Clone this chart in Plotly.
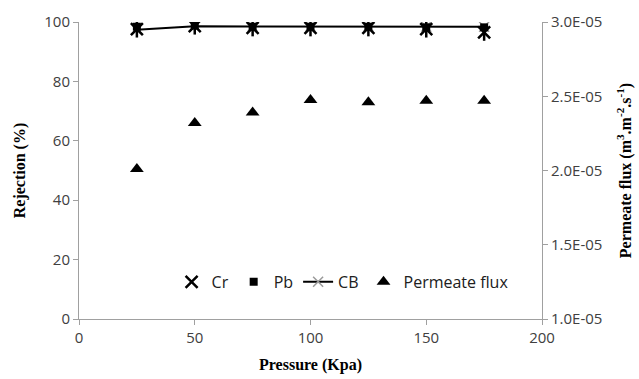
import plotly.graph_objects as go

# Operating pressure (kPa)
pressure = [25, 50, 75, 100, 125, 150, 175]

# Rejection (%) for each species
cr_rejection = [97.6, 98.6, 98.0, 98.0, 98.0, 97.6, 96.5]
pb_rejection = [98.4, 98.8, 98.4, 98.4, 98.4, 98.2, 98.2]
cb_rejection = [97.4, 98.6, 98.5, 98.5, 98.5, 98.4, 98.4]

# Permeate flux (m3.m-2.s-1)
permeate_flux = [2.01e-5, 2.32e-5, 2.39e-5, 2.475e-5, 2.46e-5, 2.47e-5, 2.47e-5]

flux_ticks = [1.0e-5, 1.5e-5, 2.0e-5, 2.5e-5, 3.0e-5]
flux_tick_text = ["1.0E-05", "1.5E-05", "2.0E-05", "2.5E-05", "3.0E-05"]

tick_font = dict(family="Open Sans, Liberation Sans, sans-serif", size=15, color="#404040")
title_font = dict(family="Liberation Serif, Times New Roman, serif", size=16, color="black")

fig = go.Figure()

# CB line drawn first so the solid markers sit on top of it
fig.add_trace(go.Scatter(
    x=pressure, y=cb_rejection, name="CB", mode="lines+markers", legendrank=3,
    line=dict(color="black", width=2),
    marker=dict(symbol="x-thin-open", size=10, color="#9a9a9a", line=dict(color="#9a9a9a", width=1.5)),
))
fig.add_trace(go.Scatter(
    x=pressure, y=pb_rejection, name="Pb", mode="markers", legendrank=2,
    marker=dict(symbol="square", size=8, color="black"),
))
fig.add_trace(go.Scatter(
    x=pressure, y=cr_rejection, name="Cr", mode="markers", legendrank=1,
    marker=dict(symbol="x-thin-open", size=12, color="black", line=dict(color="black", width=2.5)),
))
# vertical stroke of the star marker
fig.add_trace(go.Scatter(
    x=pressure, y=cr_rejection, name="Cr", mode="markers", showlegend=False,
    marker=dict(symbol="line-ns-open", size=12, color="black", line=dict(color="black", width=2.5)),
))
fig.add_trace(go.Scatter(
    x=pressure, y=permeate_flux, name="Permeate flux", mode="markers", yaxis="y2", legendrank=4,
    marker=dict(symbol="triangle-up", size=12, color="black"),
))

axis_common = dict(
    showgrid=False, zeroline=False, showline=True, linecolor="#a0a0a0", linewidth=1,
    ticks="outside", ticklen=5, tickcolor="#a0a0a0", tickfont=tick_font,
    automargin=False,
)

fig.update_layout(
    width=639, height=379,
    margin=dict(l=79, r=97, t=22, b=60),
    paper_bgcolor="white", plot_bgcolor="white",
    showlegend=True,
    legend=dict(
        orientation="h", x=0.2, y=0.125, xanchor="left", yanchor="middle",
        font=dict(family="Open Sans, Liberation Sans, sans-serif", size=16, color="#202020"),
        bgcolor="rgba(0,0,0,0)", itemwidth=30,
    ),
    xaxis=dict(
        range=[0, 200], tickvals=[0, 50, 100, 150, 200],
        title=dict(text="<b>Pressure (Kpa)</b>", font=title_font, standoff=12),
        **axis_common,
    ),
    yaxis=dict(
        range=[0, 100], tickvals=[0, 20, 40, 60, 80, 100],
        title=dict(text="<b>Rejection (%)</b>", font=title_font, standoff=14),
        **axis_common,
    ),
    yaxis2=dict(
        overlaying="y", side="right", range=[1.0e-5, 3.0e-5],
        tickvals=flux_ticks, ticktext=flux_tick_text,
        title=dict(text="<b>Permeate flux (m<sup>3</sup>.m<sup>-2</sup>.s<sup>-1</sup>)</b>",
                   font=title_font, standoff=18),
        **axis_common,
    ),
)

fig.write_html("out.html")
